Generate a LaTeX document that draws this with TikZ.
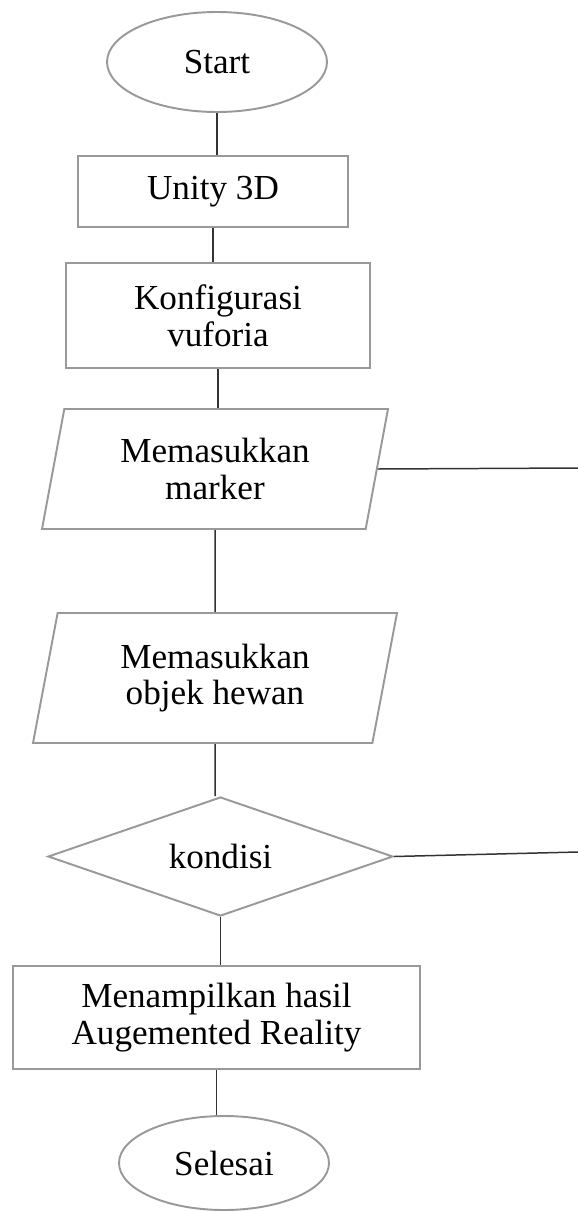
\documentclass[tikz,border=0pt]{standalone}
\usepackage{fontspec}
\setmainfont{Liberation Serif}
\usetikzlibrary{shapes.geometric,backgrounds}

\begin{document}
\begin{tikzpicture}[
    box/.style={draw=black!40, line width=1.1pt, fill=white, align=center, inner sep=2pt, font=\fontsize{20}{21}\selectfont},
    terminal/.style={box, ellipse},
    process/.style={box, rectangle},
    io/.style={box, trapezium, trapezium left angle=72, trapezium right angle=108, trapezium stretches body},
    decision/.style={box, diamond, shape aspect=2.9},
    link/.style={-, line width=0.85pt, black!80}
]

% Frame
\useasboundingbox (0,0) rectangle (11.56,-24.22);

% Flow nodes
\node[terminal, minimum width=4.4cm, minimum height=2cm] (start) at (4.34,-1.24) {Start};
\node[process, minimum width=5.4cm, minimum height=1.42cm] (unity) at (4.26,-3.83) {Unity 3D};
\node[process, minimum width=6.08cm, minimum height=2.1cm] (konfig) at (4.36,-6.31) {Konfigurasi\\vuforia};
\node[io, minimum width=6.92cm, minimum height=2.4cm] (marker) at (4.30,-9.38) {Memasukkan\\marker};
\node[io, minimum width=7.28cm, minimum height=2.6cm] (objek) at (4.30,-13.56) {Memasukkan\\objek hewan};
\node[decision, minimum width=6.9cm, minimum height=2.38cm] (kondisi) at (4.41,-17.13) {kondisi};
\node[process, minimum width=8.14cm, minimum height=2.06cm] (tampil) at (4.33,-20.35) {Menampilkan hasil\\Augemented Reality};
\node[terminal, minimum width=4.2cm, minimum height=1.88cm] (selesai) at (4.48,-23.26) {Selesai};

% Loose ends at the right border
\coordinate (markerEnd) at (11.56,-9.36);
\coordinate (kondisiEnd) at (11.56,-17.04);

% Connections
\begin{scope}[on background layer]
    \draw[link] (start) -- (start |- unity.north);
    \draw[link] (unity) -- (unity |- konfig.north);
    \draw[link] (konfig) -- (konfig |- marker.north);
    \draw[link] (marker) -- (marker |- objek.north);
    \draw[link] (objek) -- (objek |- kondisi.north);
    \draw[link] (kondisi) -- (kondisi |- tampil.north);
    \draw[link] (tampil) -- (tampil |- selesai.north);
\end{scope}
\draw[link] (marker.right side) -- (markerEnd);
\draw[link] (kondisi.east) -- (kondisiEnd);

\end{tikzpicture}
\end{document}
